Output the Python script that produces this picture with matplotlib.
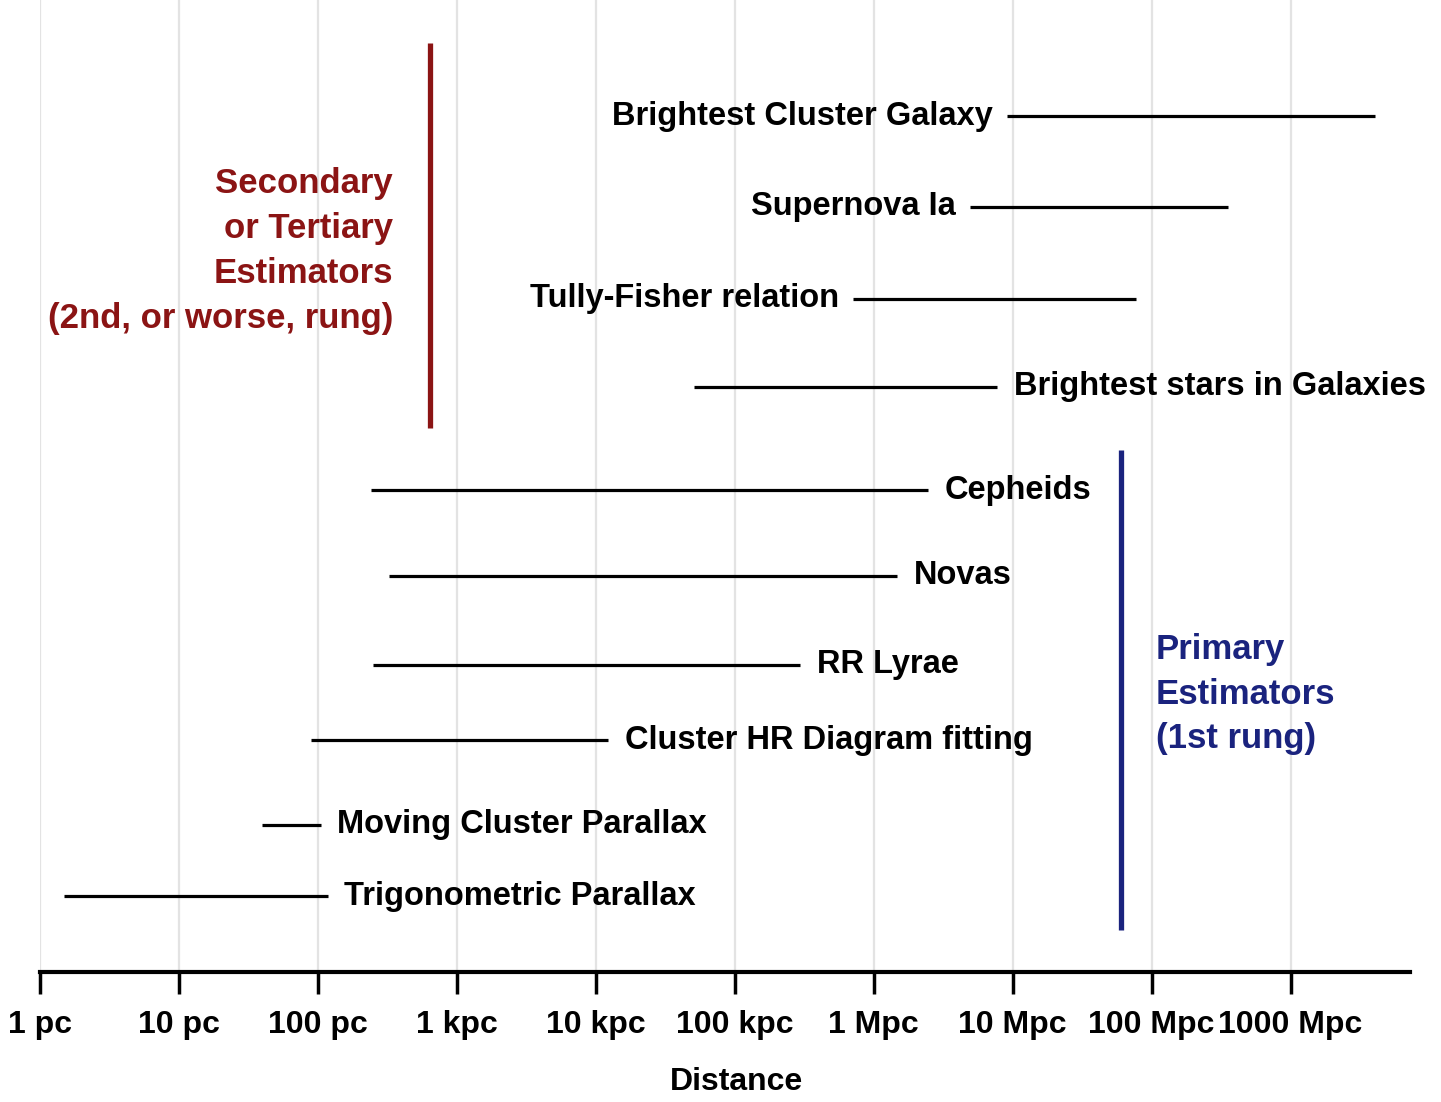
import numpy as np
import matplotlib
matplotlib.use("Agg")
import matplotlib.pyplot as plt

# distance-ladder methods: range in log10(parsec)
methods = [
    "Brightest Cluster Galaxy",
    "Supernova Ia",
    "Tully-Fisher relation",
    "Brightest stars in Galaxies",
    "Cepheids",
    "Novas",
    "RR Lyrae",
    "Cluster HR Diagram fitting",
    "Moving Cluster Parallax",
    "Trigonometric Parallax",
]
log_min = [6.96, 6.69, 5.85, 4.71, 2.38, 2.51, 2.40, 1.95, 1.60, 0.17]
log_max = [9.61, 8.55, 7.89, 6.89, 6.39, 6.17, 5.47, 4.09, 2.02, 2.07]
label_side = ["left", "left", "left", "right", "right", "right", "right", "right", "right", "right"]
row_y = [116, 207, 299, 387, 490, 576, 665, 740, 825, 896]

tick_log = [0, 1, 2, 3, 4, 5, 6, 7, 8, 9]
tick_labels = ["1 pc", "10 pc", "100 pc", "1 kpc", "10 kpc", "100 kpc",
               "1 Mpc", "10 Mpc", "100 Mpc", "1000 Mpc"]

# group brackets: (log position, y top, y bottom)
secondary = (2.81, 43, 428)
primary = (7.78, 450, 930)

font = ["Liberation Sans", "DejaVu Sans"]
red = "#8b1414"
blue = "#1a237e"

fig = plt.figure(figsize=(14.41, 11.02), dpi=100)
ax = fig.add_axes([40 / 1441, 1 - 972 / 1102, 1370 / 1441, 972 / 1102])
ax.set_xscale("log")
ax.set_xlim(1, 10 ** 9.86)
ax.set_ylim(972, 0)

for t in tick_log:
    ax.axvline(10 ** t, color="#e3e3e3", lw=1.6, zorder=0)

for name, lo, hi, side, y in zip(methods, log_min, log_max, label_side, row_y):
    ax.plot([10 ** lo, 10 ** hi], [y, y], color="black", lw=2.3, solid_capstyle="butt")
    if side == "left":
        ax.annotate(name, (10 ** lo, y), xytext=(-10, 0), textcoords="offset points",
                    ha="right", va="center", fontsize=23.5, fontweight="bold", family=font)
    else:
        ax.annotate(name, (10 ** hi, y), xytext=(12, 0), textcoords="offset points",
                    ha="left", va="center", fontsize=23.5, fontweight="bold", family=font)

ax.plot([10 ** secondary[0]] * 2, secondary[1:], color=red, lw=3.8, solid_capstyle="butt")
ax.plot([10 ** primary[0]] * 2, primary[1:], color=blue, lw=3.8, solid_capstyle="butt")

ax.annotate("Secondary\nor Tertiary\nEstimators\n(2nd, or worse, rung)",
            (10 ** secondary[0], 251), xytext=(-27, 0), textcoords="offset points",
            ha="right", va="center", multialignment="right", color=red,
            fontsize=25, fontweight="bold", family=font, linespacing=1.46)
ax.annotate("Primary\nEstimators\n(1st rung)",
            (10 ** primary[0], 694), xytext=(25, 0), textcoords="offset points",
            ha="left", va="center", multialignment="left", color=blue,
            fontsize=25, fontweight="bold", family=font, linespacing=1.46)

for s in ["top", "right", "left"]:
    ax.spines[s].set_visible(False)
ax.spines["bottom"].set_linewidth(3)
ax.set_yticks([])
ax.set_xticks([10 ** t for t in tick_log])
ax.set_xticklabels(tick_labels, fontsize=23, fontweight="bold", family=font)
ax.xaxis.set_minor_locator(matplotlib.ticker.NullLocator())
ax.tick_params(axis="x", length=16, width=2.5, pad=11)
ax.set_xlabel("Distance", fontsize=23, fontweight="bold", family=font)
ax.xaxis.set_label_coords((737 - 40) / 1370, -0.098)

fig.savefig("out.png", dpi=100)
